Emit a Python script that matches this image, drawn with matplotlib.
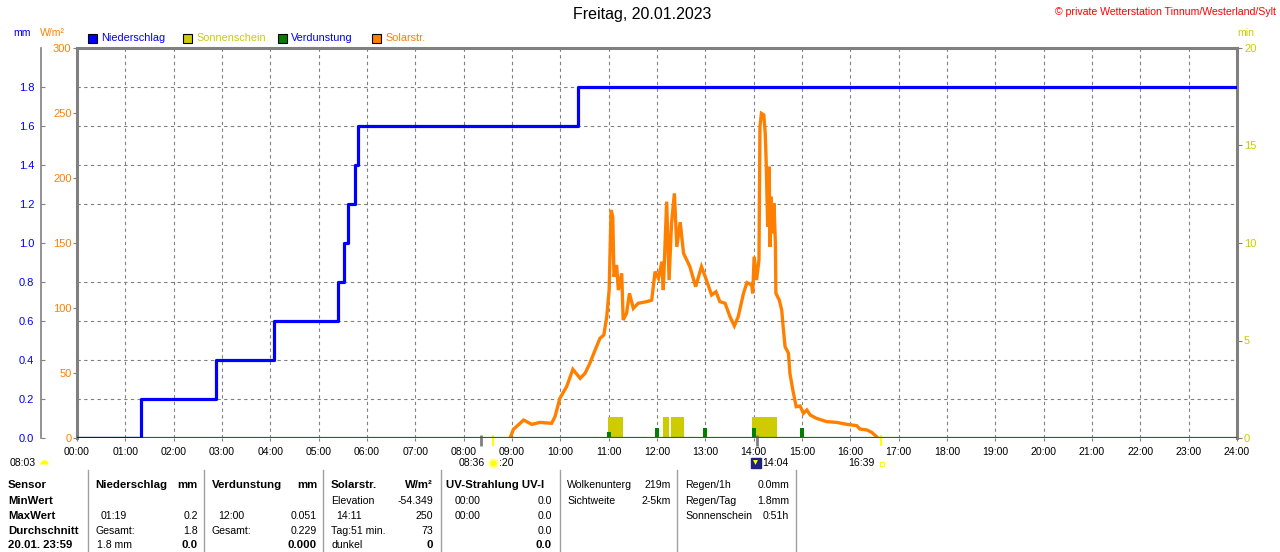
import numpy as np
import matplotlib
matplotlib.use('Agg')
import matplotlib.pyplot as plt
from matplotlib.patches import Rectangle
from matplotlib.lines import Line2D
import matplotlib.transforms as mtransforms

plt.rcParams['font.family'] = ['Liberation Sans', 'DejaVu Sans']
plt.rcParams['font.size'] = 7.5

# --- data ---
hour_labels = ['%02d:00' % h for h in range(25)]

# cumulative rain (mm), step after each time (h)
rain_t = [0, 1.32, 2.87, 4.08, 5.39, 5.53, 5.61, 5.75, 5.81, 10.37, 24]
rain_mm = [0, 0.2, 0.4, 0.6, 0.8, 1.0, 1.2, 1.4, 1.6, 1.8, 1.8]

# solar radiation (W/m2)
solar_t = [8.96, 9.03, 9.24, 9.41, 9.58, 9.82, 9.89, 9.99, 10.13, 10.26, 10.41, 10.51,
           10.61, 10.72, 10.82, 10.90, 10.96, 11.01, 11.05, 11.085, 11.11, 11.165, 11.20,
           11.27, 11.30, 11.37, 11.43, 11.51, 11.61, 11.79, 11.89, 11.96, 12.03, 12.10,
           12.13, 12.20, 12.25, 12.30, 12.36, 12.41, 12.48, 12.55, 12.68, 12.80, 12.92,
           13.01, 13.13, 13.22, 13.30, 13.41, 13.51, 13.60, 13.68, 13.79, 13.86, 13.96,
           13.98, 14.01, 14.06, 14.11, 14.13, 14.16, 14.21, 14.24, 14.26, 14.29, 14.32,
           14.34, 14.36, 14.39, 14.42, 14.45, 14.46, 14.53, 14.58, 14.61, 14.65, 14.72,
           14.75, 14.81, 14.88, 14.96, 15.03, 15.10, 15.17, 15.30, 15.51, 15.72, 15.93,
           16.13, 16.20, 16.34, 16.44, 16.53, 16.57]
solar_w = [0, 6.7, 13.8, 10.5, 12, 11.3, 16.4, 30.5, 39.5, 52.8, 45.9, 49.7,
           57.4, 67.7, 76.7, 79.2, 93.3, 113.8, 175.4, 170, 124, 133, 113.8,
           126.7, 90.8, 95.9, 111.3, 99.7, 103.6, 104.9, 106, 128, 122.8, 135.6,
           113.8, 181.8, 121.5, 165, 188.2, 147, 166, 142, 131.8, 116.4, 131.8,
           122.8, 110, 112.5, 104.9, 103.6, 93.3, 86.2, 93.3, 111.3, 119.5, 117.7,
           111.3, 139.5, 121.5, 137, 239.5, 249.7, 248.5, 234, 211, 162.5, 208.7,
           147, 185.6, 157.5, 180.5, 149.7, 111.3, 106, 98.5, 85.6, 70.2, 65.2,
           49.7, 36.9, 24.1, 24.6, 19, 21.5, 17.7, 15.1, 12.6, 12, 10.5,
           9.5, 6.9, 6.2, 4.4, 1.5, 0]

# sunshine (min) blocks: start, end (h)
sun_start = [10.99, 12.13, 12.28, 13.97]
sun_end = [11.29, 12.25, 12.55, 14.48]
sun_min = [1.1, 1.1, 1.1, 1.1]

# evaporation (mm) per hour
evap_t = [11, 12, 13, 14, 15]
evap_mm = [0.030, 0.051, 0.050, 0.049, 0.049]

# event marks below the axis
gray_marks = [8.35, 14.06]
yellow_marks = [8.60, 16.64]

BLUE = '#0000ff'
ORANGE = '#ff8000'
SUNCOL = '#cccc00'
GREEN = '#008000'
GRAY = '#808080'

W, H = 1280, 552
def fx(x):
    return x / W
def fy(y):
    return 1 - y / H

fig = plt.figure(figsize=(12.8, 5.52), dpi=100)
fig.patch.set_facecolor('white')
ax_min = fig.add_axes([fx(77), fy(438), 1160 / W, 390 / H])
ax_sol = ax_min.twinx()
ax_mm = ax_min.twinx()

# base axes: sunshine minutes (right), grid
ax_min.set_xlim(0, 24)
ax_min.set_ylim(0, 20)
ax_min.yaxis.tick_right()
ax_min.yaxis.set_label_position('right')
ax_min.set_yticks([0, 5, 10, 15, 20])
ax_min.set_yticks(np.arange(2, 20, 2), minor=True)
ax_min.tick_params(axis='y', which='major', direction='out', length=3.5, width=0.8,
                   color=GRAY, labelcolor=SUNCOL, labelsize=8, pad=1.5)
ax_min.tick_params(axis='y', which='minor', length=0)
ax_min.set_xticks(range(25))
ax_min.set_xticklabels(hour_labels)
ax_min.tick_params(axis='x', direction='out', length=2.5, width=0.8, color=GRAY,
                   labelsize=7.6, pad=4)
ax_min.grid(which='minor', axis='y', ls=(0, (3, 3)), color=GRAY, lw=0.8)
ax_min.grid(which='major', axis='x', ls=(0, (3, 3)), color=GRAY, lw=0.8)
ax_min.set_axisbelow(True)
for s in ['top', 'right', 'left']:
    ax_min.spines[s].set_color(GRAY)
    ax_min.spines[s].set_linewidth(2.2)
ax_min.spines['bottom'].set_visible(False)

for (a, b, v) in zip(sun_start, sun_end, sun_min):
    ax_min.bar(a, v, width=b - a, align='edge', color=SUNCOL, zorder=2)

# solar axis (left, orange)
ax_sol.set_ylim(0, 300)
ax_sol.yaxis.tick_left()
ax_sol.set_yticks(range(0, 301, 50))
ax_sol.tick_params(axis='y', direction='out', length=3, width=0.8, color=GRAY,
                   labelcolor=ORANGE, labelsize=8, pad=1)
for s in ax_sol.spines.values():
    s.set_visible(False)
ax_sol.plot(solar_t, solar_w, color=ORANGE, lw=2.4, solid_joinstyle='miter')

# mm axis (far left, blue)
ax_mm.set_ylim(0, 2.0)
ax_mm.yaxis.tick_left()
ax_mm.set_yticks(np.round(np.arange(0, 1.81, 0.2), 1))
ax_mm.set_yticklabels(['%.1f' % v for v in np.arange(0, 1.81, 0.2)])
for s in ax_mm.spines.values():
    s.set_visible(False)
ax_mm.spines['left'].set_visible(True)
ax_mm.spines['left'].set_position(('axes', -36.5 / 1160))
ax_mm.spines['left'].set_color(GRAY)
ax_mm.spines['left'].set_linewidth(1.2)
ax_mm.tick_params(axis='y', direction='in', length=3, width=0.8, color=GRAY,
                  labelcolor=BLUE, labelsize=8, pad=4.5)
ax_mm.axhline(0, color=GREEN, lw=1.6, zorder=2)
ax_mm.bar(evap_t, evap_mm, width=0.08, color=GREEN, zorder=3)
ax_mm.plot(rain_t, rain_mm, drawstyle='steps-post', color=BLUE, lw=2.3, zorder=4)

# event marks under the axis
trans = mtransforms.blended_transform_factory(ax_min.transData, ax_min.transAxes)
ax_min.vlines(gray_marks, -0.02, 0.008, colors=GRAY, lw=2, transform=trans, clip_on=False)
ax_min.vlines(yellow_marks, -0.02, 0.008, colors='#ffff00', lw=1.6, transform=trans, clip_on=False)

# header texts
fig.text(fx(642), fy(15), 'Freitag, 20.01.2023', ha='center', va='center', fontsize=11.5)
fig.text(fx(1276), fy(12), '\u00a9 private Wetterstation Tinnum/Westerland/Sylt',
         ha='right', va='center', color='red', fontsize=7.6)
fig.text(fx(13), fy(33), 'mm', color=BLUE, va='center', fontsize=7.6)
fig.text(fx(40), fy(33), 'W/m\u00b2', color=ORANGE, va='center', fontsize=7.6)
fig.text(fx(1237), fy(33), 'min', color=SUNCOL, va='center', fontsize=7.6)

legend_items = [(88, 'Niederschlag', BLUE, BLUE),
                (183, 'Sonnenschein', SUNCOL, SUNCOL),
                (278, 'Verdunstung', GREEN, BLUE),
                (372, 'Solarstr.', ORANGE, ORANGE)]
for x0, name, fc, tc in legend_items:
    fig.patches.append(Rectangle((fx(x0), fy(43)), 9 / W, 9 / H, facecolor=fc,
                                 edgecolor='black', lw=0.8, transform=fig.transFigure))
    fig.text(fx(x0 + 13), fy(38), name, color=tc, va='center', fontsize=7.8)

# annotations below the time axis
fig.text(fx(10), fy(463), '08:03', va='center', fontsize=7.6)
fig.add_artist(Line2D([fx(44)], [fy(464)], marker='o', ms=6, fillstyle='top',
                      markerfacecolor='#ffff00', markerfacecoloralt='none',
                      markeredgecolor='none', transform=fig.transFigure))
fig.text(fx(459), fy(463), '08:36', va='center', fontsize=7.6)
fig.add_artist(Line2D([fx(493)], [fy(463)], marker='o', ms=6, markerfacecolor='#ffff00',
                      markeredgecolor='#ffff99', mew=1.5, transform=fig.transFigure))
fig.text(fx(499), fy(463), ':20', va='center', fontsize=7.6)
fig.add_artist(Line2D([fx(756)], [fy(463)], marker='s', ms=7, markerfacecolor='#202080',
                      markeredgecolor='#202080', transform=fig.transFigure))
fig.add_artist(Line2D([fx(755)], [fy(462)], marker='v', ms=3.5, markerfacecolor='#ffff00',
                      markeredgecolor='none', transform=fig.transFigure))
fig.text(fx(762), fy(463), '14:04', va='center', fontsize=7.6)
fig.text(fx(848), fy(463), '16:39', va='center', fontsize=7.6)
fig.add_artist(Line2D([fx(882)], [fy(464)], marker='s', ms=3.5, markerfacecolor='none',
                      markeredgecolor='#ffff00', mew=0.9, transform=fig.transFigure))

# summary table
for xs in [88, 204, 323, 441, 560, 677, 796]:
    fig.add_artist(Line2D([fx(xs), fx(xs)], [fy(470), fy(552)], color='#a0a0a0', lw=1,
                          transform=fig.transFigure))

rows_y = [485, 501, 516, 531, 545.5]
sensor_labels = ['Sensor', 'MinWert', 'MaxWert', 'Durchschnitt', '20.01. 23:59']
for yy, lab in zip(rows_y, sensor_labels):
    fig.text(fx(8), fy(yy), lab, va='center', fontweight='bold', fontsize=8.2)

def cell(x, row, s, ha='left', bold=False):
    fig.text(fx(x), fy(rows_y[row]), s, va='center', ha=ha,
             fontsize=8.2 if bold else 7.6,
             fontweight='bold' if bold else 'normal')

cell(95, 0, 'Niederschlag', bold=True); cell(198, 0, 'mm', 'right', True)
cell(101, 2, '01:19'); cell(198, 2, '0.2', 'right')
cell(95, 3, 'Gesamt:'); cell(198, 3, '1.8', 'right')
cell(97, 4, '1.8 mm'); cell(198, 4, '0.0', 'right', True)

cell(212, 0, 'Verdunstung', bold=True); cell(317, 0, 'mm', 'right', True)
cell(218, 2, '12:00'); cell(317, 2, '0.051', 'right')
cell(212, 3, 'Gesamt:'); cell(317, 3, '0.229', 'right')
cell(317, 4, '0.000', 'right', True)

cell(331, 0, 'Solarstr.', bold=True); cell(433, 0, 'W/m\u00b2', 'right', True)
cell(331, 1, 'Elevation'); cell(433, 1, '-54.349', 'right')
cell(336, 2, '14:11'); cell(433, 2, '250', 'right')
cell(331, 3, 'Tag:51 min.'); cell(433, 3, '73', 'right')
cell(331, 4, 'dunkel'); cell(433, 4, '0', 'right', True)

cell(446, 0, 'UV-Strahlung UV-I', bold=True)
cell(455, 1, '00:00'); cell(552, 1, '0.0', 'right')
cell(455, 2, '00:00'); cell(552, 2, '0.0', 'right')
cell(552, 3, '0.0', 'right')
cell(552, 4, '0.0', 'right', True)

cell(567, 0, 'Wolkenunterg'); cell(671, 0, '219m', 'right')
cell(567, 1, 'Sichtweite'); cell(671, 1, '2-5km', 'right')

cell(685, 0, 'Regen/1h'); cell(789, 0, '0.0mm', 'right')
cell(685, 1, 'Regen/Tag'); cell(789, 1, '1.8mm', 'right')
cell(685, 2, 'Sonnenschein'); cell(789, 2, '0:51h', 'right')

fig.savefig('out.png', dpi=100, facecolor='white')
